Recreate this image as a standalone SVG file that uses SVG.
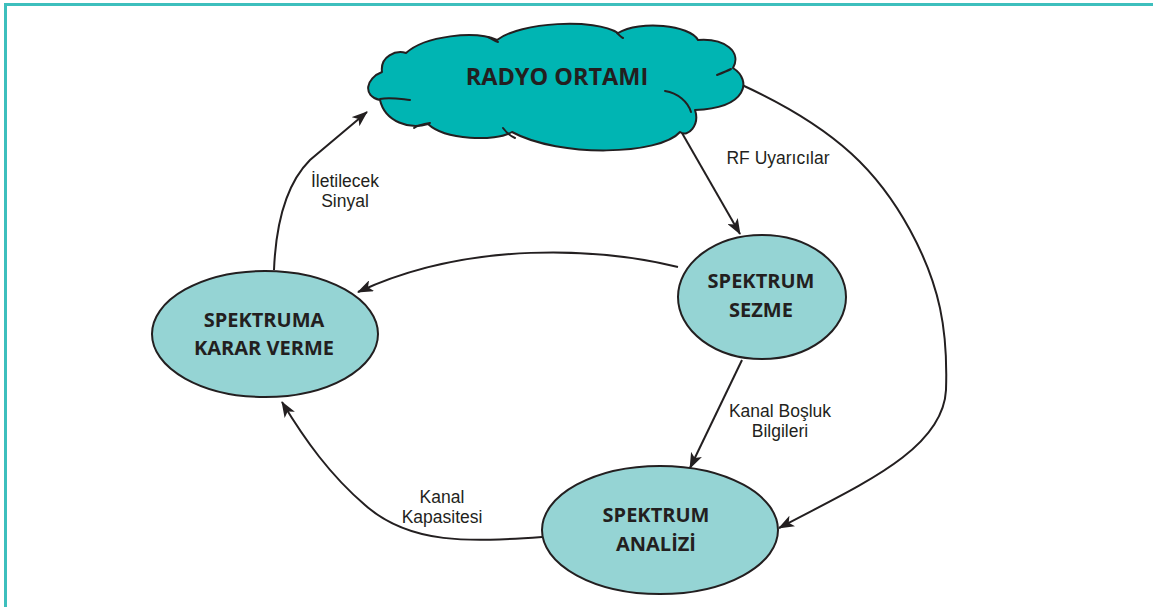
<svg xmlns="http://www.w3.org/2000/svg" width="1153" height="607" viewBox="0 0 1153 607">
<style>
.node{fill:#95d4d4;stroke:#231f20;stroke-width:2}
.cloud{fill:#00b5b3;stroke:#231f20;stroke-width:2;stroke-linejoin:round}
.tick{fill:none;stroke:#231f20;stroke-width:2;stroke-linecap:round}
.conn{fill:none;stroke:#231f20;stroke-width:2}
.nt{font-family:"Open Sans","DejaVu Sans",sans-serif;font-weight:bold;font-size:20px;fill:#231f20;text-anchor:middle}
.lt{font-family:"Liberation Sans",Arial,sans-serif;font-size:17.5px;fill:#231f20;text-anchor:middle}
</style>
<defs>
<marker id="arr" markerUnits="userSpaceOnUse" markerWidth="16" markerHeight="12" refX="15" refY="6" orient="auto">
<path d="M0,0 L16,6 L0,12 L4,6 Z" fill="#231f20"/>
</marker>
</defs>
<rect width="1153" height="607" fill="#ffffff"/>
<path d="M5.5,607 L5.5,4.5 L1153,4.5" fill="none" stroke="#3dbfbd" stroke-width="3"/>
<g id="connectors">
<path class="conn" d="M274,270 C276,220 288,182 310,160 L367,112" marker-end="url(#arr)"/>
<path class="conn" d="M682,133 L740,234" marker-end="url(#arr)"/>
<path class="conn" d="M742,85 C840,130 880,175 910,230 C940,285 948,330 946,390 C943,450 860,485 779,528" marker-end="url(#arr)"/>
<path class="conn" d="M678,267 C600,248 470,240 358,292" marker-end="url(#arr)"/>
<path class="conn" d="M742,360 L690,468" marker-end="url(#arr)"/>
<path class="conn" d="M542,537 C470,542 410,545 365,505 C330,475 305,440 282,402" marker-end="url(#arr)"/>
</g>
<g id="radyo-ortami">
<path class="cloud" d="M380,100 C362,96 366,78 382,72 C380,56 396,50 406,53 C425,36 475,30 497,40 C520,22 595,18 618,33 C640,20 690,25 698,40 C725,38 742,52 733,68 C752,80 748,108 695,110 C700,125 688,138 680,132 C660,155 560,158 512,132 C495,142 445,140 428,124 C410,130 385,122 380,100 Z"/>
<path class="tick" d="M380,99 C390,97 400,99 410,100"/>
<path class="tick" d="M414,128 C418,125 423,124 430,123"/>
<path class="tick" d="M503,128 C506,132 510,136 515,138"/>
<path class="tick" d="M488,37 C492,39 495,41 498,42"/>
<path class="tick" d="M617,33 C619,35 621,37 623,38"/>
<path class="tick" d="M717,75 C722,73 727,71 731,69"/>
<path class="tick" d="M665,91 C678,93 688,102 691,112"/>
<text class="nt" x="557" y="85" style="font-size:23.5px">RADYO ORTAMI</text>
</g>
<g id="karar-verme">
<ellipse class="node" cx="265" cy="334" rx="113" ry="63"/>
<text class="nt" x="264" y="327">SPEKTRUMA</text>
<text class="nt" x="264" y="355">KARAR VERME</text>
</g>
<g id="sezme">
<ellipse class="node" cx="762" cy="297" rx="84" ry="62"/>
<text class="nt" x="761" y="288">SPEKTRUM</text>
<text class="nt" x="761" y="317">SEZME</text>
</g>
<g id="analizi">
<ellipse class="node" cx="660" cy="530" rx="118" ry="64"/>
<text class="nt" x="656" y="522">SPEKTRUM</text>
<text class="nt" x="656" y="551">ANALİZİ</text>
</g>
<g id="labels">
<text class="lt" x="345" y="187">İletilecek</text>
<text class="lt" x="345" y="207">Sinyal</text>
<text class="lt" x="778" y="164">RF Uyarıcılar</text>
<text class="lt" x="780" y="417">Kanal Boşluk</text>
<text class="lt" x="780" y="437">Bilgileri</text>
<text class="lt" x="442" y="503">Kanal</text>
<text class="lt" x="442" y="523">Kapasitesi</text>
</g>
</svg>
